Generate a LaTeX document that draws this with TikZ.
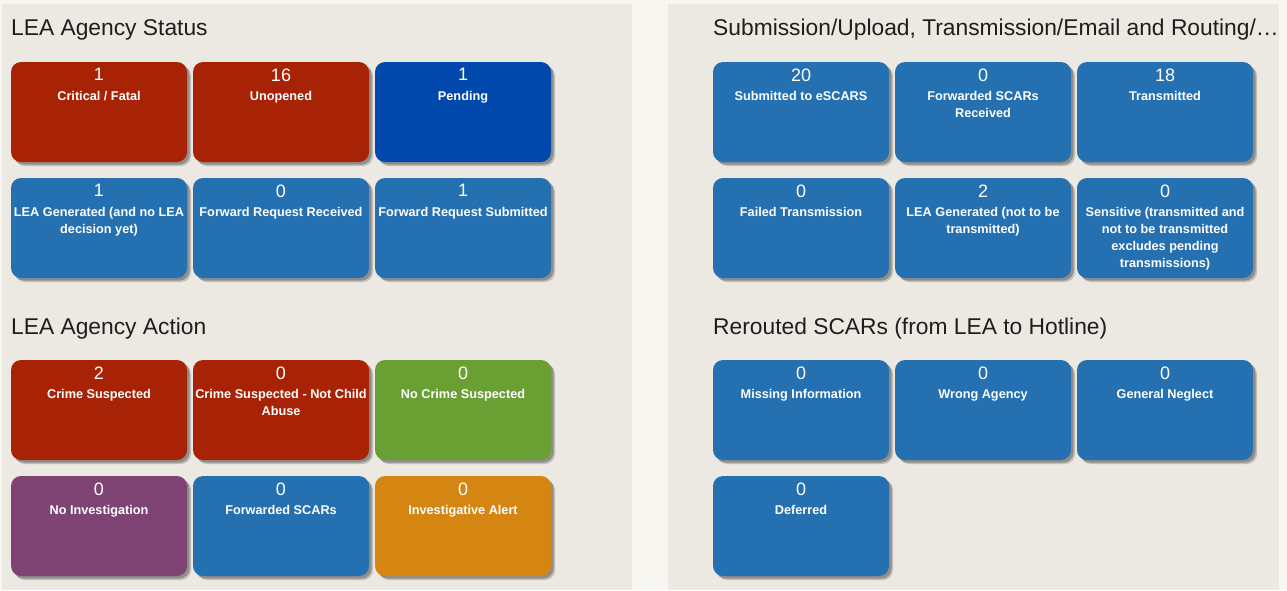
\documentclass[tikz,border=0pt]{standalone}
\usepackage{fontspec}
\setmainfont{Liberation Sans}
\usetikzlibrary{shadows}
\definecolor{pagebg}{HTML}{F8F6F1}
\definecolor{panelbg}{HTML}{ECE9E3}
\definecolor{cred}{HTML}{A82306}
\definecolor{cdblue}{HTML}{0048AC}
\definecolor{cblue}{HTML}{2470B1}
\definecolor{cgreen}{HTML}{6A9F33}
\definecolor{cpurple}{HTML}{7E4373}
\definecolor{corange}{HTML}{D58512}
\definecolor{titlecol}{HTML}{1E1E1E}
\tikzset{
  card/.style={rectangle, rounded corners=10pt, minimum width=176pt, minimum height=100pt, inner sep=0pt, draw=none,
    drop shadow={shadow xshift=4pt, shadow yshift=-4pt, fill=black, opacity=0.18},
    drop shadow={shadow xshift=2.5pt, shadow yshift=-2.5pt, fill=black, opacity=0.25}},
  num/.style={text=white, inner sep=0pt, font=\fontsize{18}{20}\selectfont},
  lab/.style={text=white, inner sep=0pt, align=center, anchor=north, font=\bfseries\fontsize{12.7}{17}\selectfont},
  ttl/.style={text=titlecol, inner sep=0pt, anchor=base west, font=\fontsize{22.8}{26}\selectfont}
}
\newcommand\mkcard[6]{%
  \node[card, fill=#4] (#1) at (#2+88, #3+50) {};
  \node[num] (#1n) at ([yshift=-13pt]#1.north) {#5};
  \node[lab] (#1l) at ([yshift=-27pt]#1.north) {\rule{0pt}{11pt}#6};
}
\begin{document}
\begin{tikzpicture}[x=1pt, y=-1pt]
\useasboundingbox (0,0) rectangle (1287,590);
\fill[pagebg] (0,0) rectangle (1287,590);
\fill[panelbg] (2,4) rectangle (632,590);
\fill[panelbg] (668,4) rectangle (1279,590);

\node[ttl] (t1) at (11,35) {LEA Agency Status};
\node[ttl] (t2) at (11,334) {LEA Agency Action};
\node[ttl] (t3) at (713,35) {Submission/Upload, Transmission/Email and Routing/\dots};
\node[ttl] (t4) at (713,334) {Rerouted SCARs (from LEA to Hotline)};

\mkcard{a1}{11}{62}{cred}{1}{Critical / Fatal}
\mkcard{a2}{193}{62}{cred}{16}{Unopened}
\mkcard{a3}{375}{62}{cdblue}{1}{Pending}
\mkcard{a4}{11}{178}{cblue}{1}{LEA Generated (and no LEA\\decision yet)}
\mkcard{a5}{193}{178}{cblue}{0}{Forward Request Received}
\mkcard{a6}{375}{178}{cblue}{1}{Forward Request Submitted}

\mkcard{b1}{11}{360}{cred}{2}{Crime Suspected}
\mkcard{b2}{193}{360}{cred}{0}{Crime Suspected - Not Child\\Abuse}
\mkcard{b3}{375}{360}{cgreen}{0}{No Crime Suspected}
\mkcard{b4}{11}{476}{cpurple}{0}{No Investigation}
\mkcard{b5}{193}{476}{cblue}{0}{Forwarded SCARs}
\mkcard{b6}{375}{476}{corange}{0}{Investigative Alert}

\mkcard{c1}{713}{62}{cblue}{20}{Submitted to eSCARS}
\mkcard{c2}{895}{62}{cblue}{0}{Forwarded SCARs\\Received}
\mkcard{c3}{1077}{62}{cblue}{18}{Transmitted}
\mkcard{c4}{713}{178}{cblue}{0}{Failed Transmission}
\mkcard{c5}{895}{178}{cblue}{2}{LEA Generated (not to be\\transmitted)}
\mkcard{c6}{1077}{178}{cblue}{0}{Sensitive (transmitted and\\not to be transmitted\\excludes pending\\transmissions)}

\mkcard{d1}{713}{360}{cblue}{0}{Missing Information}
\mkcard{d2}{895}{360}{cblue}{0}{Wrong Agency}
\mkcard{d3}{1077}{360}{cblue}{0}{General Neglect}
\mkcard{d4}{713}{476}{cblue}{0}{Deferred}
\end{tikzpicture}
\end{document}
